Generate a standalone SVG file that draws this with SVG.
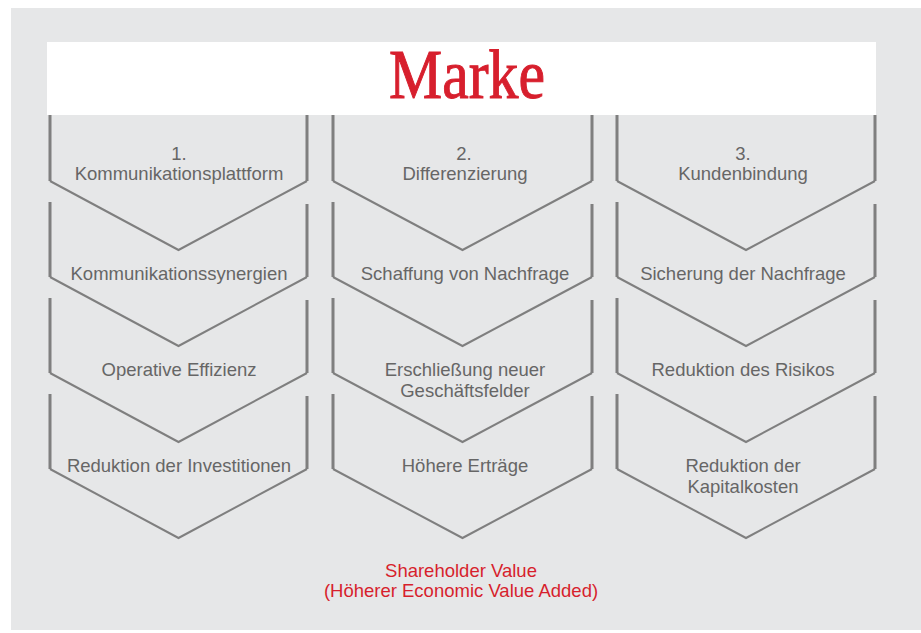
<svg xmlns="http://www.w3.org/2000/svg" width="921" height="633" viewBox="0 0 921 633">
  <style>
    .side { fill: none; stroke: #7f7f7f; stroke-width: 3; }
    .vee { fill: none; stroke: #7f7f7f; stroke-width: 2; stroke-linejoin: miter; }
    .lbl { font-family: "Liberation Sans", Arial, sans-serif; font-size: 18.5px; fill: #666666; text-anchor: middle; }
    .res { font-family: "Liberation Sans", Arial, sans-serif; font-size: 18.5px; fill: #d71f2d; text-anchor: middle; }
    .title { font-family: "Liberation Serif", "Times New Roman", serif; font-size: 69px; fill: #d71f2d; stroke: #d71f2d; stroke-width: 1; }
  </style>

  <!-- panel -->
  <rect x="0" y="0" width="921" height="633" fill="#ffffff"/>
  <rect x="11" y="8" width="910" height="622" fill="#e6e7e8"/>

  <!-- header band -->
  <g id="marke">
    <rect x="47" y="42" width="829" height="73" fill="#ffffff"/>
    <text class="title" x="389" y="98" textLength="156" lengthAdjust="spacingAndGlyphs">Marke</text>
  </g>

  <!-- column 1 -->
  <g id="k1-plattform">
    <path class="vee" d="M50,181 L178.5,250 L307,181"/>
    <path class="side" d="M50,115 V181 M307,115 V181"/>
    <text class="lbl" x="179" y="160">1.</text>
    <text class="lbl" x="179" y="180">Kommunikationsplattform</text>
  </g>
  <g id="k1-synergien">
    <path class="vee" d="M50,277 L178.5,346 L307,277"/>
    <path class="side" d="M50,202 V277 M307,204 V277"/>
    <text class="lbl" x="179" y="280">Kommunikationssynergien</text>
  </g>
  <g id="k1-effizienz">
    <path class="vee" d="M50,373 L178.5,442 L307,373"/>
    <path class="side" d="M50,298 V373 M307,300 V373"/>
    <text class="lbl" x="179" y="376">Operative Effizienz</text>
  </g>
  <g id="k1-investitionen">
    <path class="vee" d="M50,469 L178.5,538 L307,469"/>
    <path class="side" d="M50,394 V469 M307,396 V469"/>
    <text class="lbl" x="179" y="472">Reduktion der Investitionen</text>
  </g>

  <!-- column 2 -->
  <g id="k2-differenzierung">
    <path class="vee" d="M333,181 L462.5,250 L592,181"/>
    <path class="side" d="M333,115 V181 M592,115 V181"/>
    <text class="lbl" x="464" y="160">2.</text>
    <text class="lbl" x="465" y="180">Differenzierung</text>
  </g>
  <g id="k2-nachfrage">
    <path class="vee" d="M333,277 L462.5,346 L592,277"/>
    <path class="side" d="M333,202 V277 M592,204 V277"/>
    <text class="lbl" x="465" y="280">Schaffung von Nachfrage</text>
  </g>
  <g id="k2-geschaeftsfelder">
    <path class="vee" d="M333,373 L462.5,442 L592,373"/>
    <path class="side" d="M333,298 V373 M592,300 V373"/>
    <text class="lbl" x="465" y="376">Erschließung neuer</text>
    <text class="lbl" x="465" y="397">Geschäftsfelder</text>
  </g>
  <g id="k2-ertraege">
    <path class="vee" d="M333,469 L462.5,538 L592,469"/>
    <path class="side" d="M333,394 V469 M592,396 V469"/>
    <text class="lbl" x="465" y="472">Höhere Erträge</text>
  </g>

  <!-- column 3 -->
  <g id="k3-kundenbindung">
    <path class="vee" d="M617,181 L746,250 L875,181"/>
    <path class="side" d="M617,115 V181 M875,115 V181"/>
    <text class="lbl" x="743" y="160">3.</text>
    <text class="lbl" x="743" y="180">Kundenbindung</text>
  </g>
  <g id="k3-nachfrage">
    <path class="vee" d="M617,277 L746,346 L875,277"/>
    <path class="side" d="M617,202 V277 M875,204 V277"/>
    <text class="lbl" x="743" y="280">Sicherung der Nachfrage</text>
  </g>
  <g id="k3-risiko">
    <path class="vee" d="M617,373 L746,442 L875,373"/>
    <path class="side" d="M617,298 V373 M875,300 V373"/>
    <text class="lbl" x="743" y="376">Reduktion des Risikos</text>
  </g>
  <g id="k3-kapitalkosten">
    <path class="vee" d="M617,469 L746,538 L875,469"/>
    <path class="side" d="M617,394 V469 M875,396 V469"/>
    <text class="lbl" x="743" y="472">Reduktion der</text>
    <text class="lbl" x="743" y="493">Kapitalkosten</text>
  </g>

  <!-- result -->
  <g id="shareholder-value">
    <text class="res" x="461" y="577">Shareholder Value</text>
    <text class="res" x="461" y="597">(Höherer Economic Value Added)</text>
  </g>

  <!-- no separate connectors: the chevrons themselves carry the flow -->
  <g id="connectors"/>
</svg>
